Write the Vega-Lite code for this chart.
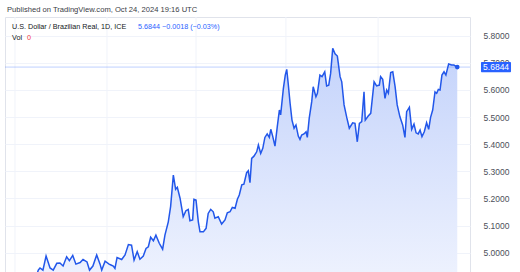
{
  "$schema": "https://vega.github.io/schema/vega-lite/v6.json",
  "width": 465,
  "height": 255,
  "autosize": {"type": "none"},
  "padding": {"left": 5, "top": 17, "right": 50, "bottom": 0},
  "background": "white",
  "title": {"text": "Published on TradingView.com, Oct 24, 2024 19:16 UTC", "anchor": "start", "frame": "group", "dx": 2, "offset": 3, "fontSize": 7.6, "fontWeight": "normal", "font": "Liberation Sans", "color": "#3a3d45"},
  "config": {
    "view": {"stroke": "#e0e3eb"},
    "text": {"font": "Liberation Sans"}
  },
  "data": {"values": [
    {"d": 0, "p": 4.881}, {"d": 3.3, "p": 4.899}, {"d": 7.1, "p": 4.914}, {"d": 9.5, "p": 4.899},
    {"d": 11.1, "p": 4.936}, {"d": 11.9, "p": 4.944}, {"d": 13.3, "p": 4.936}, {"d": 14.8, "p": 4.988},
    {"d": 16.7, "p": 4.944}, {"d": 18.2, "p": 4.936}, {"d": 19.9, "p": 4.961}, {"d": 21.4, "p": 4.962},
    {"d": 22.9, "p": 4.951}, {"d": 24.6, "p": 4.985}, {"d": 25.9, "p": 4.971}, {"d": 27.5, "p": 4.990},
    {"d": 29.0, "p": 4.958}, {"d": 31.0, "p": 4.964}, {"d": 32.4, "p": 4.975}, {"d": 34.3, "p": 4.966},
    {"d": 35.5, "p": 4.936}, {"d": 37.1, "p": 4.951}, {"d": 38.9, "p": 4.992}, {"d": 40.5, "p": 4.958},
    {"d": 41.3, "p": 4.936}, {"d": 42.9, "p": 4.969}, {"d": 44.8, "p": 4.958}, {"d": 45.7, "p": 4.955},
    {"d": 46.8, "p": 4.951}, {"d": 47.6, "p": 4.942}, {"d": 48.6, "p": 4.982}, {"d": 50.8, "p": 4.975},
    {"d": 52.4, "p": 4.992}, {"d": 54.0, "p": 5.030}, {"d": 55.5, "p": 5.028}, {"d": 56.7, "p": 4.973},
    {"d": 58.2, "p": 5.004}, {"d": 59.5, "p": 4.976}, {"d": 61.1, "p": 4.988}, {"d": 62.4, "p": 5.016},
    {"d": 63.5, "p": 5.022}, {"d": 64.6, "p": 5.057}, {"d": 65.9, "p": 5.044}, {"d": 67.1, "p": 5.065},
    {"d": 68.7, "p": 5.035}, {"d": 70.3, "p": 5.013}, {"d": 71.4, "p": 5.065}, {"d": 73.0, "p": 5.114},
    {"d": 74.1, "p": 5.170}, {"d": 75.4, "p": 5.286}, {"d": 76.5, "p": 5.234}, {"d": 77.3, "p": 5.241},
    {"d": 78.6, "p": 5.201}, {"d": 80.1, "p": 5.133}, {"d": 81.4, "p": 5.155}, {"d": 82.5, "p": 5.160},
    {"d": 83.3, "p": 5.118}, {"d": 84.6, "p": 5.121}, {"d": 85.2, "p": 5.197}, {"d": 86.2, "p": 5.194},
    {"d": 87.3, "p": 5.114}, {"d": 88.1, "p": 5.077}, {"d": 89.7, "p": 5.077}, {"d": 91.0, "p": 5.090},
    {"d": 92.0, "p": 5.145}, {"d": 93.2, "p": 5.160}, {"d": 94.4, "p": 5.151}, {"d": 95.2, "p": 5.127},
    {"d": 96.8, "p": 5.133}, {"d": 98.4, "p": 5.106}, {"d": 100.0, "p": 5.121}, {"d": 101.1, "p": 5.147},
    {"d": 102.4, "p": 5.151}, {"d": 103.5, "p": 5.167}, {"d": 104.8, "p": 5.164}, {"d": 105.9, "p": 5.197},
    {"d": 106.8, "p": 5.213}, {"d": 108.0, "p": 5.250}, {"d": 109.0, "p": 5.253}, {"d": 110.3, "p": 5.295},
    {"d": 111.1, "p": 5.302}, {"d": 111.9, "p": 5.258}, {"d": 112.7, "p": 5.348}, {"d": 113.8, "p": 5.356},
    {"d": 115.1, "p": 5.372}, {"d": 115.9, "p": 5.397}, {"d": 117.0, "p": 5.366}, {"d": 118.0, "p": 5.385},
    {"d": 119.0, "p": 5.425}, {"d": 120.1, "p": 5.438}, {"d": 121.1, "p": 5.425}, {"d": 121.8, "p": 5.455},
    {"d": 122.7, "p": 5.430}, {"d": 123.8, "p": 5.393}, {"d": 124.9, "p": 5.465}, {"d": 125.9, "p": 5.526},
    {"d": 126.5, "p": 5.508}, {"d": 127.8, "p": 5.606}, {"d": 128.7, "p": 5.655}, {"d": 129.4, "p": 5.676},
    {"d": 130.1, "p": 5.624}, {"d": 131.0, "p": 5.551}, {"d": 131.9, "p": 5.489}, {"d": 132.9, "p": 5.459},
    {"d": 133.8, "p": 5.471}, {"d": 134.9, "p": 5.430}, {"d": 135.7, "p": 5.418}, {"d": 136.5, "p": 5.434},
    {"d": 137.6, "p": 5.438}, {"d": 138.6, "p": 5.446}, {"d": 139.2, "p": 5.425}, {"d": 140.1, "p": 5.495},
    {"d": 141.3, "p": 5.557}, {"d": 142.0, "p": 5.612}, {"d": 143.3, "p": 5.575}, {"d": 144.0, "p": 5.588},
    {"d": 145.2, "p": 5.655}, {"d": 146.2, "p": 5.649}, {"d": 147.5, "p": 5.667}, {"d": 148.4, "p": 5.615},
    {"d": 149.4, "p": 5.618}, {"d": 150.3, "p": 5.661}, {"d": 151.3, "p": 5.754}, {"d": 152.4, "p": 5.733},
    {"d": 153.5, "p": 5.725}, {"d": 154.8, "p": 5.649}, {"d": 155.6, "p": 5.630}, {"d": 156.7, "p": 5.545},
    {"d": 158.0, "p": 5.498}, {"d": 159.2, "p": 5.459}, {"d": 160.8, "p": 5.479}, {"d": 161.9, "p": 5.477},
    {"d": 163.0, "p": 5.409}, {"d": 164.0, "p": 5.477}, {"d": 165.1, "p": 5.483}, {"d": 166.2, "p": 5.593},
    {"d": 166.8, "p": 5.489}, {"d": 168.2, "p": 5.504}, {"d": 169.4, "p": 5.514}, {"d": 171.0, "p": 5.630},
    {"d": 172.2, "p": 5.615}, {"d": 173.5, "p": 5.618}, {"d": 174.1, "p": 5.649}, {"d": 175.1, "p": 5.639},
    {"d": 176.2, "p": 5.569}, {"d": 177.0, "p": 5.600}, {"d": 177.8, "p": 5.588}, {"d": 178.9, "p": 5.664},
    {"d": 179.9, "p": 5.667}, {"d": 181.0, "p": 5.612}, {"d": 182.0, "p": 5.545}, {"d": 183.3, "p": 5.501},
    {"d": 184.6, "p": 5.471}, {"d": 185.7, "p": 5.425}, {"d": 186.5, "p": 5.520}, {"d": 187.8, "p": 5.536},
    {"d": 188.9, "p": 5.455}, {"d": 190.0, "p": 5.474}, {"d": 191.0, "p": 5.442}, {"d": 192.0, "p": 5.438},
    {"d": 192.9, "p": 5.452}, {"d": 193.8, "p": 5.428}, {"d": 194.9, "p": 5.446}, {"d": 196.0, "p": 5.479},
    {"d": 197.0, "p": 5.455}, {"d": 197.9, "p": 5.499}, {"d": 198.9, "p": 5.526}, {"d": 200.0, "p": 5.593},
    {"d": 200.8, "p": 5.588}, {"d": 201.6, "p": 5.602}, {"d": 202.4, "p": 5.600}, {"d": 203.3, "p": 5.655},
    {"d": 204.3, "p": 5.667}, {"d": 205.2, "p": 5.655}, {"d": 206.5, "p": 5.696}, {"d": 207.9, "p": 5.692},
    {"d": 209.0, "p": 5.692}, {"d": 210.6, "p": 5.6844}
  ]},
  "layer": [
    {
      "data": {"values": [{"d": 0}, {"d": 43.8}, {"d": 86.2}, {"d": 129}, {"d": 172.9}]},
      "mark": {"type": "rule", "color": "#f0f3fa", "strokeWidth": 1},
      "encoding": {"x": {"field": "d", "type": "quantitative"}}
    },
    {
      "mark": {"type": "area", "clip": true, "line": false, "color": {"gradient": "linear", "x1": 0, "y1": 0, "x2": 0, "y2": 1, "stops": [{"offset": 0, "color": "#c4d3fb"}, {"offset": 1, "color": "#eff3fe"}]}},
      "encoding": {
        "x": {"field": "d", "type": "quantitative", "scale": {"domain": [-4.76, 216.67], "nice": false, "zero": false},
              "axis": {"labels": false, "ticks": false, "domain": false, "grid": false, "title": null}},
        "y": {"field": "p", "type": "quantitative", "scale": {"domain": [4.929, 5.869], "nice": false, "zero": false},
              "axis": {"orient": "right", "tickCount": 9, "format": ".4f", "labelFont": "Liberation Sans", "labelFontSize": 8.5, "labelColor": "#4c4f59", "labelPadding": 13, "labelAlign": "left", "labelOverlap": false, "labelBound": false, "labelFlush": false, "ticks": false, "domain": false, "grid": true, "gridColor": "#f0f3fa", "title": null}},
        "y2": {"datum": 4.929}
      }
    },
    {
      "data": {"values": [{}]},
      "mark": {"type": "rule", "color": "#2962ff", "opacity": 0.3, "strokeWidth": 1},
      "encoding": {"y": {"datum": 5.6844, "type": "quantitative"}}
    },
    {
      "mark": {"type": "line", "clip": true, "color": "#2257ea", "strokeWidth": 1.5},
      "encoding": {
        "x": {"field": "d", "type": "quantitative"},
        "y": {"field": "p", "type": "quantitative"}
      }
    },
    {
      "transform": [{"filter": "datum.d > 210"}],
      "mark": {"type": "point", "filled": true, "color": "#2257ea", "size": 22, "opacity": 1},
      "encoding": {
        "x": {"field": "d", "type": "quantitative"},
        "y": {"field": "p", "type": "quantitative"}
      }
    },
    {
      "data": {"values": [{}]},
      "mark": {"type": "rect", "color": "#2962ff", "cornerRadius": 1},
      "encoding": {
        "x": {"datum": 221.9, "type": "quantitative"},
        "x2": {"datum": 236.2},
        "y": {"datum": 5.7035, "type": "quantitative"},
        "y2": {"datum": 5.6655}
      }
    },
    {
      "data": {"values": [{}]},
      "mark": {"type": "text", "color": "white", "fontSize": 8.5, "align": "left", "baseline": "middle"},
      "encoding": {
        "x": {"datum": 222.9, "type": "quantitative"},
        "y": {"datum": 5.6844, "type": "quantitative"},
        "text": {"value": "5.6844"}
      }
    },
    {
      "data": {"values": [{}]},
      "mark": {"type": "text", "color": "#131722", "fontSize": 7.2, "align": "left", "baseline": "middle"},
      "encoding": {
        "x": {"datum": -1.43, "type": "quantitative"},
        "y": {"datum": 5.832, "type": "quantitative"},
        "text": {"value": "U.S. Dollar / Brazilian Real, 1D, ICE"}
      }
    },
    {
      "data": {"values": [{}]},
      "mark": {"type": "text", "color": "#2962ff", "fontSize": 7.2, "align": "left", "baseline": "middle"},
      "encoding": {
        "x": {"datum": 58.6, "type": "quantitative"},
        "y": {"datum": 5.832, "type": "quantitative"},
        "text": {"value": "5.6844  −0.0018 (−0.03%)"}
      }
    },
    {
      "data": {"values": [{}]},
      "mark": {"type": "text", "color": "#131722", "fontSize": 7.2, "align": "left", "baseline": "middle"},
      "encoding": {
        "x": {"datum": -1.43, "type": "quantitative"},
        "y": {"datum": 5.792, "type": "quantitative"},
        "text": {"value": "Vol"}
      }
    },
    {
      "data": {"values": [{}]},
      "mark": {"type": "text", "color": "#f23645", "fontSize": 7.2, "align": "left", "baseline": "middle"},
      "encoding": {
        "x": {"datum": 5.7, "type": "quantitative"},
        "y": {"datum": 5.792, "type": "quantitative"},
        "text": {"value": "0"}
      }
    }
  ]
}
